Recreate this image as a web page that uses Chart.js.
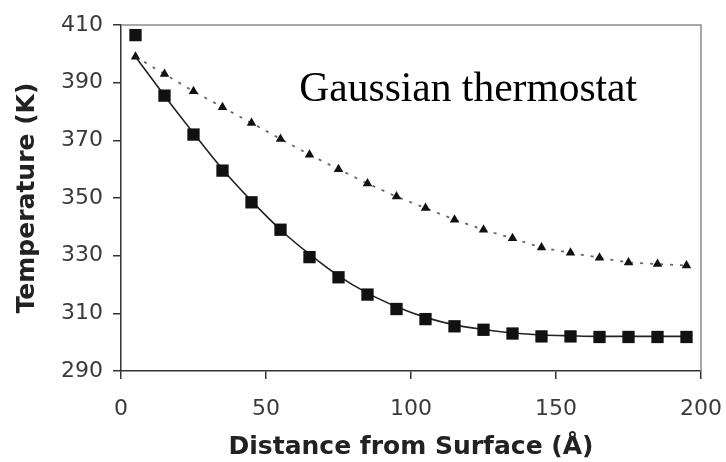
<!DOCTYPE html>
<html>
<head>
<meta charset="utf-8">
<script src="https://cdn.jsdelivr.net/npm/chart.js@4.4.0/dist/chart.umd.min.js"></script>
<style>
  body { margin: 0; background: #fff; }
  canvas { display: block; }
</style>
</head>
<body>
<canvas id="chart" width="726" height="462"></canvas>
<script>
// distance from surface (Å)
const distance = [5, 15, 25, 35, 45, 55, 65, 75, 85, 95, 105, 115, 125, 135, 145, 155, 165, 175, 185, 195];
// squares (measured) and the solid fit through them
const squareTemp = [406.5, 385.5, 372, 359.5, 348.5, 339, 329.5, 322.5, 316.5, 311.5, 308, 305.5, 304.3, 303, 302, 302, 301.8, 301.8, 301.8, 301.8];
const fitTemp = [399, 385.5, 372.5, 360, 349, 339, 330.5, 323, 317, 312.3, 308.6, 306, 304.4, 303.2, 302.5, 302.2, 302, 302, 302, 302];
// triangles with dotted line
const triangleTemp = [399, 393, 387, 381.5, 376, 370.5, 365, 360, 355, 350.5, 346.5, 342.5, 339, 336, 332.8, 331, 329.3, 327.6, 327.1, 326.6];

const xTicks = [0, 50, 100, 150, 200];
const yTicks = [290, 310, 330, 350, 370, 390, 410];
const annotationText = 'Gaussian thermostat';

const toPoints = (xs, ys) => xs.map((x, i) => ({x: x, y: ys[i]}));

// gray frame on top/right plus the text label
const framePlugin = {
    id: 'frame',
    afterDraw(chart) {
        const {ctx, chartArea} = chart;
        ctx.save();
        ctx.strokeStyle = '#8a8a8a';
        ctx.lineWidth = 1.5;
        ctx.beginPath();
        ctx.moveTo(chartArea.left, chartArea.top);
        ctx.lineTo(chartArea.right, chartArea.top);
        ctx.lineTo(chartArea.right, chartArea.bottom);
        ctx.stroke();

        ctx.fillStyle = '#000';
        ctx.font = '41.5px "Liberation Serif", "Times New Roman", serif';
        ctx.textBaseline = 'alphabetic';
        ctx.textAlign = 'left';
        const x = chart.scales.x.getPixelForValue(61.5);
        const y = chart.scales.y.getPixelForValue(383.6);
        ctx.fillText(annotationText, x, y);
        ctx.restore();
    }
};

const tickFont = {family: '"DejaVu Sans", sans-serif', size: 22};
const titleFont = {family: '"DejaVu Sans", sans-serif', size: 25, weight: 'bold'};

new Chart(document.getElementById('chart'), {
    type: 'line',
    data: {
        datasets: [
            {
                data: toPoints(distance, squareTemp),
                showLine: false,
                pointStyle: 'rect',
                pointRadius: 8.7,
                backgroundColor: '#111',
                borderColor: '#111',
                borderWidth: 0,
                order: 0
            },
            {
                data: toPoints(distance, fitTemp),
                borderColor: '#222',
                borderWidth: 1.6,
                pointRadius: 0,
                cubicInterpolationMode: 'monotone',
                fill: false,
                order: 1
            },
            {
                data: toPoints(distance, triangleTemp),
                borderColor: '#666',
                borderWidth: 1.8,
                borderDash: [3, 7],
                pointStyle: 'triangle',
                pointRadius: 5.5,
                backgroundColor: '#111',
                pointBorderColor: '#111',
                pointBorderWidth: 0,
                fill: false,
                order: 2
            }
        ]
    },
    options: {
        responsive: false,
        animation: false,
        layout: {padding: {top: 25, right: 25, bottom: 0, left: 0}},
        plugins: {
            legend: {display: false},
            tooltip: {enabled: false}
        },
        scales: {
            x: {
                type: 'linear',
                min: 0,
                max: 200,
                afterFit: (s) => { s.height = 91; s.paddingLeft = 0; s.paddingRight = 0; },
                afterBuildTicks: (s) => { s.ticks = xTicks.map(v => ({value: v})); },
                grid: {drawOnChartArea: false, drawTicks: true, tickLength: 8, color: '#333', lineWidth: 1.5},
                border: {display: true, color: '#333', width: 1.5},
                ticks: {font: tickFont, color: '#3a3a3a', padding: 17, maxRotation: 0},
                title: {display: true, text: 'Distance from Surface (Å)', font: titleFont, color: '#222', padding: {top: 0, bottom: 0}}
            },
            y: {
                min: 290,
                max: 410,
                afterFit: (s) => { s.width = 121; s.paddingTop = 0; s.paddingBottom = 0; },
                afterBuildTicks: (s) => { s.ticks = yTicks.map(v => ({value: v})); },
                grid: {drawOnChartArea: false, drawTicks: true, tickLength: 8, color: '#333', lineWidth: 1.5},
                border: {display: true, color: '#333', width: 1.5},
                ticks: {font: tickFont, color: '#3a3a3a', padding: 10},
                title: {display: true, text: 'Temperature (K)', font: titleFont, color: '#222', padding: {top: 12, bottom: 0}}
            }
        }
    },
    plugins: [framePlugin]
});
</script>
</body>
</html>
